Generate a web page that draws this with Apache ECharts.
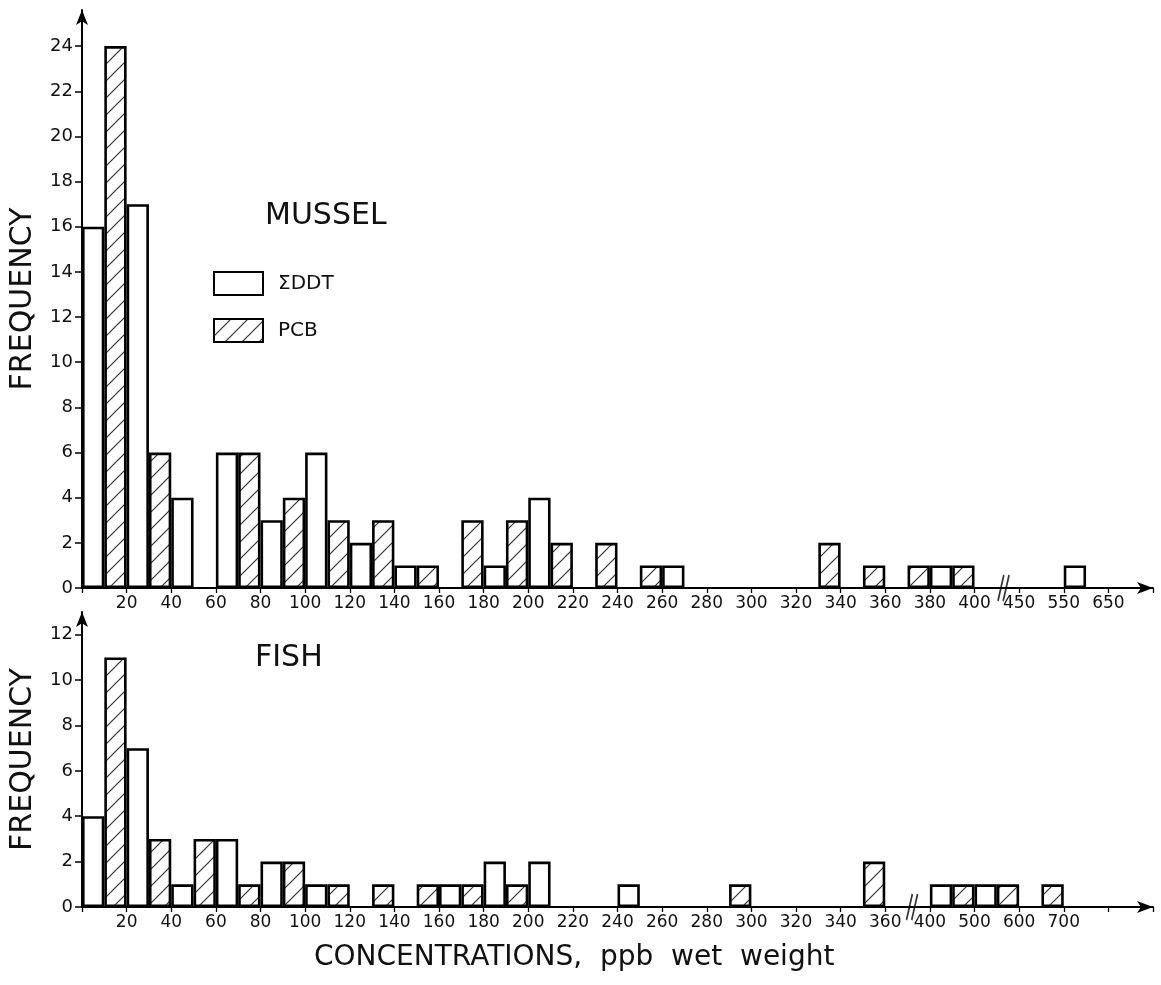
<!DOCTYPE html>
<html>
<head>
<meta charset="utf-8">
<script src="https://cdn.jsdelivr.net/npm/echarts@6/dist/echarts.min.js"></script>
<style>
html,body{margin:0;padding:0;background:#fff;}
#chart{width:1161px;height:985px;}
</style>
</head>
<body>
<div id="chart"></div>
<script>
// ---------- DATA ----------
const musselBins = ['0-20','20-40','40-60','60-80','80-100','100-120','120-140','140-160','160-180','180-200',
  '200-220','220-240','240-260','260-280','280-300','300-320','320-340','340-360','360-380','380-400',
  '400-450','450-550','550-650','>650'];
const musselDDT = [16,17,4,6,3,6,2,1,0,1,4,0,0,1,0,0,0,0,0,1,0,0,1,0];
const musselPCB = [24,6,0,6,4,3,3,1,3,3,2,2,1,0,0,0,2,1,1,1,0,0,0,0];
const musselTicks = ['','20','40','60','80','100','120','140','160','180','200','220','240','260','280','300',
  '320','340','360','380','400','450','550','650',''];
const musselBreak = [[20.65, 0]];

const fishBins = ['0-20','20-40','40-60','60-80','80-100','100-120','120-140','140-160','160-180','180-200',
  '200-220','220-240','240-260','260-280','280-300','300-320','320-340','340-360','360-400',
  '400-500','500-600','600-700','700-800','>800'];
const fishDDT = [4,7,1,3,2,1,0,0,1,2,2,0,1,0,0,0,0,0,0,1,1,0,0,0];
const fishPCB = [11,3,3,1,2,1,1,1,1,1,0,0,0,0,1,0,0,2,0,1,1,1,0,0];
const fishTicks = ['','20','40','60','80','100','120','140','160','180','200','220','240','260','280','300',
  '320','340','360','400','500','600','700','',''];
const fishBreak = [[18.6, 0]];

const freqTicksTop = {min:0, max:25.6, interval:2};
const freqTicksBottom = {min:0, max:13, interval:2};

// ---------- STYLE ----------
const FONT = 'DejaVu Sans';
const INK = '#111';

function hatchCanvas(){
  const s = 17;
  const c = document.createElement('canvas');
  c.width = s; c.height = s;
  const g = c.getContext('2d');
  g.fillStyle = '#fff'; g.fillRect(0,0,s,s);
  g.strokeStyle = '#333'; g.lineWidth = 1.2;
  g.beginPath();
  g.moveTo(-2, s+2); g.lineTo(s+2, -2);
  g.moveTo(-2, 2); g.lineTo(2, -2);
  g.moveTo(s-2, s+2); g.lineTo(s+2, s-2);
  g.stroke();
  return c;
}
const hatch = {image: hatchCanvas(), repeat: 'repeat'};

const nz = a => a.map(v => v === 0 ? null : v);

const ddtStyle = {color:'#fff', borderColor:'#000', borderWidth:2.6};
const pcbStyle = {color:hatch, borderColor:'#000', borderWidth:2.6};

function yAxis(grid, t){
  return {
    type:'value', gridIndex:grid, min:t.min, max:t.max, interval:t.interval, position:'left',
    name:'FREQUENCY', nameLocation:'middle', nameRotate:90, nameGap:44,
    nameTextStyle:{fontFamily:FONT, fontSize:30, color:INK},
    axisLine:{show:true, symbol:['none','arrow'], symbolSize:[9,15], lineStyle:{color:'#000', width:2}},
    axisTick:{show:true, inside:false, length:7, lineStyle:{color:'#000', width:1.5}},
    axisLabel:{fontFamily:FONT, fontSize:18, color:INK, margin:9, showMaxLabel:false},
    splitLine:{show:false}
  };
}
function xValAxis(grid, ticks){
  return {
    type:'value', gridIndex:grid, min:0, max:24, interval:1, position:'bottom',
    axisLine:{show:true, onZero:false, symbol:['none','arrow'], symbolSize:[9,16], lineStyle:{color:'#000', width:2}},
    axisTick:{show:true, inside:false, length:5, lineStyle:{color:'#000', width:1.3}},
    axisLabel:{fontFamily:FONT, fontSize:17, color:INK, margin:7,
      formatter: v => ticks[Math.round(v)] || ''},
    splitLine:{show:false}
  };
}
function xCatAxis(grid, bins){
  return {type:'category', gridIndex:grid, data:bins, boundaryGap:true, position:'bottom', show:false};
}
function breakSeries(x, y, data){
  return {
    type:'scatter', xAxisIndex:x, yAxisIndex:y, data:data, z:5,
    symbol:'path://M0,26 L9,0 M8,26 L17,0', symbolSize:[17,26], symbolKeepAspect:true,
    itemStyle:{color:'none', borderColor:'#000', borderWidth:2},
    silent:true
  };
}
function bars(name, x, y, data, style){
  return {
    type:'bar', name:name, xAxisIndex:x, yAxisIndex:y, data:nz(data),
    barGap:'0%', barCategoryGap:'0%', itemStyle:style, z:3, silent:true
  };
}

const chart = echarts.init(document.getElementById('chart'), null, {renderer:'canvas'});
chart.setOption({
  backgroundColor:'#fff',
  animation:false,
  title:[
    {text:'MUSSEL', left:265, top:201, padding:0, textStyle:{fontFamily:FONT, fontSize:30, fontWeight:'normal', color:INK}},
    {text:'FISH', left:255, top:643, padding:0, textStyle:{fontFamily:FONT, fontSize:30, fontWeight:'normal', color:INK}},
    {text:'CONCENTRATIONS,  ppb  wet  weight', left:314, top:944, padding:0, textStyle:{fontFamily:FONT, fontSize:28, fontWeight:'normal', color:INK}}
  ],
  legend:{
    orient:'vertical', left:213, top:271, padding:0,
    itemWidth:49, itemHeight:23, itemGap:22, icon:'rect',
    data:['ΣDDT','PCB'],
    textStyle:{fontFamily:FONT, fontSize:20, color:INK, padding:[0,0,0,10]},
    selectedMode:false
  },
  grid:[
    {left:78, right:8, top:10, height:578},
    {left:78, right:8, top:612, height:295}
  ],
  xAxis:[
    xCatAxis(0, musselBins), xValAxis(0, musselTicks),
    xCatAxis(1, fishBins), xValAxis(1, fishTicks)
  ],
  yAxis:[ yAxis(0, freqTicksTop), yAxis(1, freqTicksBottom) ],
  series:[
    bars('ΣDDT', 0, 0, musselDDT, ddtStyle),
    bars('PCB', 0, 0, musselPCB, pcbStyle),
    bars('ΣDDT', 2, 1, fishDDT, ddtStyle),
    bars('PCB', 2, 1, fishPCB, pcbStyle),
    breakSeries(1, 0, musselBreak),
    breakSeries(3, 1, fishBreak)
  ]
});
</script>
</body>
</html>
